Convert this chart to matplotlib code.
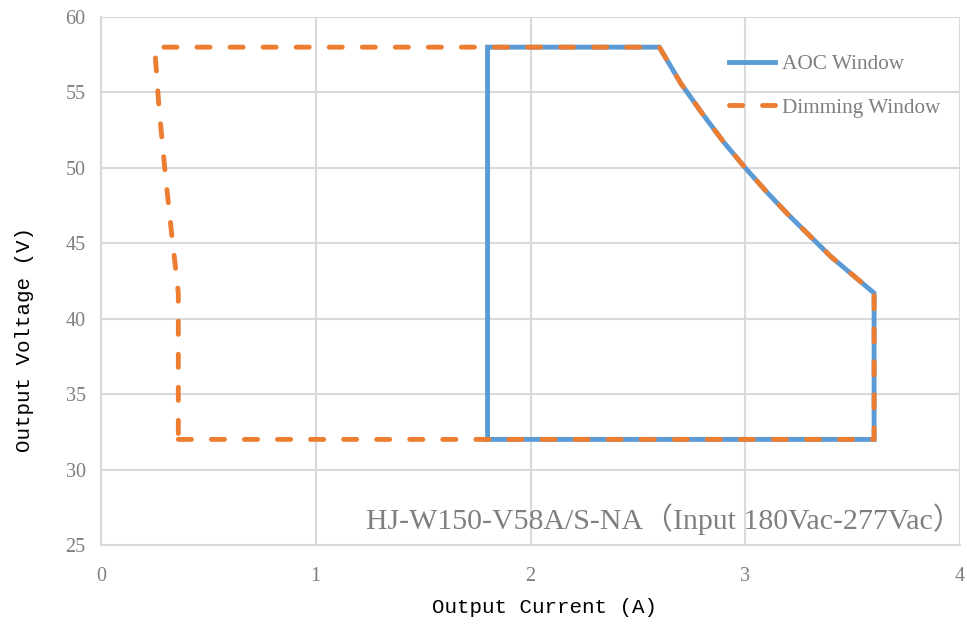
import matplotlib
matplotlib.use('Agg')
import matplotlib.pyplot as plt

# AOC window (blue, solid)
aoc_current = [1.8, 1.8, 2.6, 2.7, 2.8, 2.9, 3.0, 3.1, 3.2, 3.3, 3.4, 3.5, 3.6, 3.6, 1.8]
aoc_voltage = [32, 58, 58, 55.6, 53.6, 51.7, 50.0, 48.4, 46.9, 45.5, 44.1, 42.9, 41.7, 32, 32]

# Dimming window (orange, dashed)
dim_current = [0.36, 3.6, 3.6, 3.5, 3.4, 3.3, 3.2, 3.1, 3.0, 2.9, 2.8, 2.7, 2.6,
               0.25, 0.27, 0.30, 0.33, 0.35, 0.36, 0.36]
dim_voltage = [32, 32, 41.7, 42.9, 44.1, 45.5, 46.9, 48.4, 50.0, 51.7, 53.6, 55.6, 58,
               58, 54.0, 49.5, 45.5, 43.0, 41.7, 32]

x_ticks = [0, 1, 2, 3, 4]
y_ticks = [25, 30, 35, 40, 45, 50, 55, 60]

title_text = 'HJ-W150-V58A/S-NA（Input 180Vac-277Vac）'

blue = '#5B9BD5'
orange = '#ED7D31'
grid_c = '#D9D9D9'
text_c = '#7F7F7F'

fig = plt.figure(figsize=(9.67, 6.24), dpi=100)
ax = fig.add_axes([101/967, 1-545/624, 859/967, 528/624])

ax.plot(aoc_current, aoc_voltage, color=blue, lw=3.5, label='AOC Window',
        solid_joinstyle='miter', zorder=3)
ax.plot(dim_current, dim_voltage, color=orange, lw=3.5, ls=(0, (2.7, 4.1)),
        dash_capstyle='round', label='Dimming Window', zorder=4)

ax.set_xlim(0, 4)
ax.set_ylim(25, 60)
ax.set_xticks(x_ticks)
ax.set_yticks(y_ticks)
ax.grid(True, color=grid_c, lw=1.5, zorder=0)
for s in ['top', 'right']:
    ax.spines[s].set_visible(False)
for s in ['left', 'bottom']:
    ax.spines[s].set_color(grid_c)
    ax.spines[s].set_linewidth(1.5)
ax.tick_params(length=0, colors=text_c, labelsize=14.5)
ax.tick_params(axis='y', pad=11)
ax.tick_params(axis='x', pad=16)
for lbl in ax.get_xticklabels() + ax.get_yticklabels():
    lbl.set_family('Liberation Serif')

ax.set_xlabel('Output Current (A)', family='Liberation Mono', fontsize=15, color='black')
ax.set_ylabel('Output Voltage (V)', family='Liberation Mono', fontsize=15, color='black')
ax.xaxis.set_label_coords((545-101)/859, -(598-545)/528)
ax.yaxis.set_label_coords(-(101-34)/859, (545-340)/528)

ax.text(4.01, 26.7, title_text, family=['Liberation Serif', 'Noto Sans CJK SC'],
        fontsize=21.5, color=text_c, ha='right', va='center')

leg = ax.legend(loc='upper right', bbox_to_anchor=(0.999, 0.965), frameon=False,
                prop={'family': 'Liberation Serif', 'size': 15.3},
                handlelength=2.2, labelspacing=1.1, handletextpad=0.3)
for t in leg.get_texts():
    t.set_color(text_c)

fig.savefig('out.png', dpi=100)
